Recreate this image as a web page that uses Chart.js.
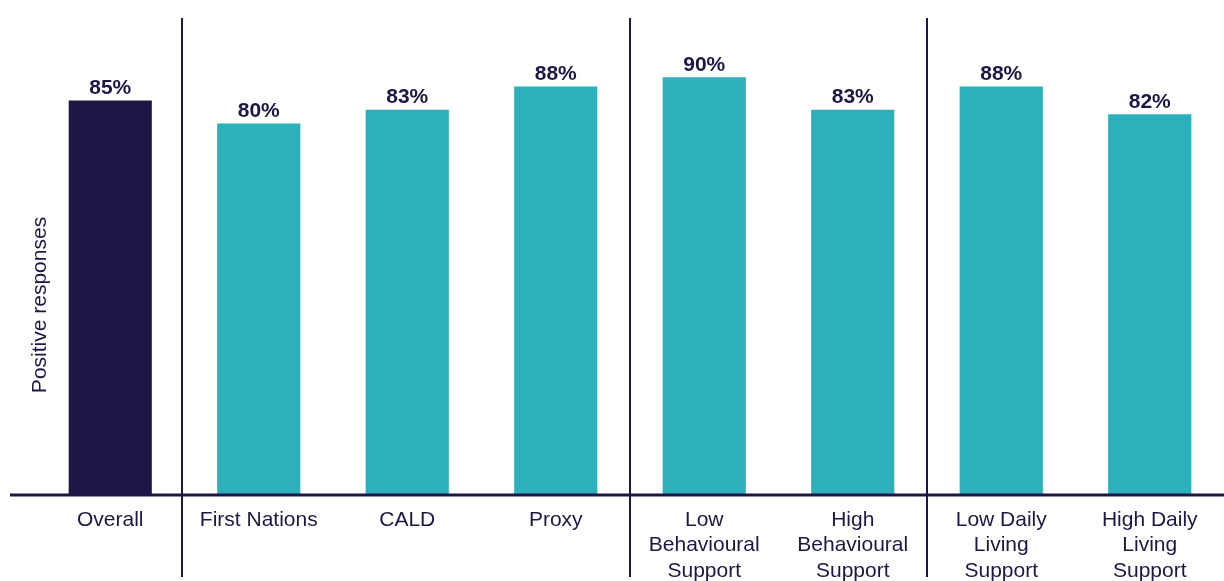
<!DOCTYPE html>
<html>
<head>
<meta charset="utf-8">
<script src="https://cdn.jsdelivr.net/npm/chart.js@4"></script>
<style>
  html, body { margin: 0; padding: 0; background: #fff; }
  #wrap { width: 1224px; height: 581px; }
</style>
</head>
<body>
<div id="wrap"><canvas id="myChart" width="1224" height="581"></canvas></div>
<script>
const categories = [
  ['Overall'],
  ['First Nations'],
  ['CALD'],
  ['Proxy'],
  ['Low', 'Behavioural', 'Support'],
  ['High', 'Behavioural', 'Support'],
  ['Low Daily', 'Living', 'Support'],
  ['High Daily', 'Living', 'Support']
];
const positiveValues = [85, 80, 83, 88, 90, 83, 88, 82];
// index of the first category in each new group (a divider goes before it)
const groupStarts = [1, 4, 6];

const navy = '#1f1645';
const teal = '#2cb0bb';
const fontFamily = '"Liberation Sans", Arial, Helvetica, sans-serif';

const overlayPlugin = {
  id: 'overlay',
  afterDatasetsDraw(chart) {
    const { ctx, chartArea, scales } = chart;
    const xScale = scales.x;
    const meta = chart.getDatasetMeta(0);

    ctx.save();
    // value labels
    ctx.fillStyle = navy;
    ctx.font = 'bold 21px ' + fontFamily;
    ctx.textAlign = 'center';
    ctx.textBaseline = 'bottom';
    meta.data.forEach((bar, i) => {
      ctx.fillText(positiveValues[i] + '%', bar.x, bar.y - 2);
    });

    // baseline
    ctx.strokeStyle = navy;
    ctx.lineWidth = 3;
    ctx.beginPath();
    ctx.moveTo(10, chartArea.bottom + 1);
    ctx.lineTo(chart.width, chartArea.bottom + 1);
    ctx.stroke();

    // group dividers
    ctx.lineWidth = 2;
    groupStarts.forEach((idx, n) => {
      let x = Math.round((xScale.getPixelForValue(idx - 1) + xScale.getPixelForValue(idx)) / 2);
      if (n === 0) x -= 3;
      ctx.beginPath();
      ctx.moveTo(x, 18);
      ctx.lineTo(x, 577);
      ctx.stroke();
    });

    // y axis title
    ctx.translate(40, 305);
    ctx.rotate(-Math.PI / 2);
    ctx.font = '21px ' + fontFamily;
    ctx.textBaseline = 'middle';
    ctx.fillText('Positive responses', 0, 0);
    ctx.restore();
  }
};

new Chart(document.getElementById('myChart'), {
  type: 'bar',
  data: {
    labels: categories,
    datasets: [{
      data: positiveValues,
      backgroundColor: positiveValues.map((v, i) => i === 0 ? navy : teal),
      borderWidth: 0,
      categoryPercentage: 1,
      barPercentage: 0.56
    }]
  },
  options: {
    responsive: false,
    animation: false,
    layout: { padding: { left: 36, right: 0, top: 31, bottom: 0 } },
    plugins: {
      legend: { display: false },
      tooltip: { enabled: false }
    },
    scales: {
      x: {
        grid: { display: false, drawTicks: false },
        border: { display: false },
        ticks: {
          color: navy,
          padding: 13,
          maxRotation: 0,
          autoSkip: false,
          font: { family: fontFamily, size: 21, lineHeight: 1.22 }
        },
        afterFit(axis) { axis.height = 87; }
      },
      y: {
        display: false,
        min: 0,
        max: 100
      }
    }
  },
  plugins: [overlayPlugin]
});
</script>
</body>
</html>
